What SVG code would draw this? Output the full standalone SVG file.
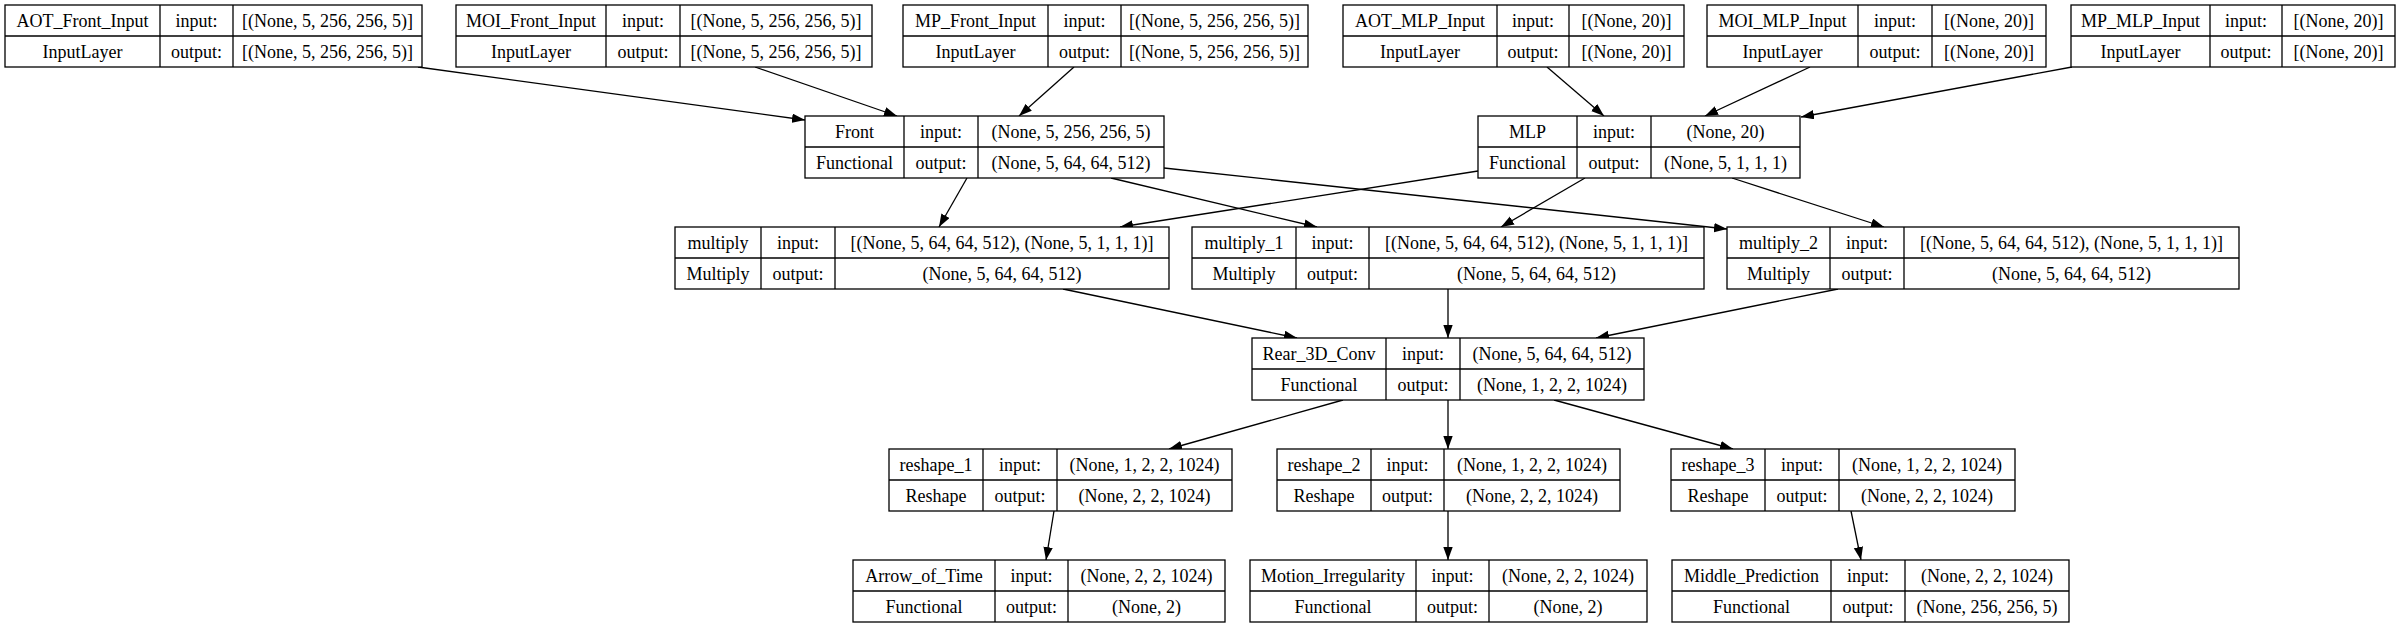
<svg xmlns="http://www.w3.org/2000/svg" width="2405" height="627" viewBox="0 0 2405 627">
<style>
.box{fill:#fff;stroke:#000;stroke-width:1.3}
.sep{stroke:#000;stroke-width:1.3}
text{font-family:"Liberation Serif","Times New Roman",serif;font-size:18px;fill:#000;text-anchor:middle}
.edge{stroke:#000;stroke-width:1.3;fill:none;marker-end:url(#arrow)}
</style>
<defs>
<marker id="arrow" markerUnits="userSpaceOnUse" markerWidth="14" markerHeight="10" refX="13" refY="4.7" orient="auto" viewBox="0 0 14 10">
<path d="M0,0 L13,4.7 L0,9.4 z" fill="#000"/>
</marker>
</defs>
<rect x="0" y="0" width="2405" height="627" fill="#fff"/>

<g id="connectors">
<line class="edge" x1="418" y1="67" x2="805" y2="120"/>
<line class="edge" x1="755" y1="67" x2="897" y2="116"/>
<line class="edge" x1="1074" y1="67" x2="1019" y2="116"/>
<line class="edge" x1="1547" y1="67" x2="1604" y2="116"/>
<line class="edge" x1="1810" y1="67" x2="1705" y2="116"/>
<line class="edge" x1="2072" y1="67" x2="1801" y2="117"/>
<line class="edge" x1="967" y1="178" x2="939" y2="227"/>
<line class="edge" x1="1111" y1="178" x2="1317" y2="227"/>
<line class="edge" x1="1164" y1="168" x2="1727" y2="229"/>
<line class="edge" x1="1478" y1="171" x2="1120" y2="227"/>
<line class="edge" x1="1585" y1="178" x2="1501" y2="227"/>
<line class="edge" x1="1732" y1="178" x2="1884" y2="227"/>
<line class="edge" x1="1063" y1="289" x2="1297" y2="338"/>
<line class="edge" x1="1448" y1="289" x2="1448" y2="338"/>
<line class="edge" x1="1838" y1="289" x2="1596" y2="338"/>
<line class="edge" x1="1343" y1="400" x2="1169" y2="449"/>
<line class="edge" x1="1448" y1="400" x2="1448" y2="449"/>
<line class="edge" x1="1554" y1="400" x2="1733" y2="449"/>
<line class="edge" x1="1054" y1="511" x2="1046" y2="560"/>
<line class="edge" x1="1448" y1="511" x2="1448" y2="560"/>
<line class="edge" x1="1851" y1="511" x2="1861" y2="560"/>
</g>

<g id="AOT_Front_Input">
<rect class="box" x="5" y="5" width="417" height="62"/>
<line class="sep" x1="160" y1="5" x2="160" y2="67"/><line class="sep" x1="233" y1="5" x2="233" y2="67"/><line class="sep" x1="5" y1="36" x2="422" y2="36"/>
<text x="82.5" y="27">AOT_Front_Input</text><text x="196.5" y="27">input:</text><text x="327.5" y="27">[(None, 5, 256, 256, 5)]</text>
<text x="82.5" y="58">InputLayer</text><text x="196.5" y="58">output:</text><text x="327.5" y="58">[(None, 5, 256, 256, 5)]</text>
</g>

<g id="MOI_Front_Input">
<rect class="box" x="456" y="5" width="416" height="62"/>
<line class="sep" x1="606" y1="5" x2="606" y2="67"/><line class="sep" x1="680" y1="5" x2="680" y2="67"/><line class="sep" x1="456" y1="36" x2="872" y2="36"/>
<text x="531" y="27">MOI_Front_Input</text><text x="643" y="27">input:</text><text x="776" y="27">[(None, 5, 256, 256, 5)]</text>
<text x="531" y="58">InputLayer</text><text x="643" y="58">output:</text><text x="776" y="58">[(None, 5, 256, 256, 5)]</text>
</g>

<g id="MP_Front_Input">
<rect class="box" x="903" y="5" width="405" height="62"/>
<line class="sep" x1="1048" y1="5" x2="1048" y2="67"/><line class="sep" x1="1121" y1="5" x2="1121" y2="67"/><line class="sep" x1="903" y1="36" x2="1308" y2="36"/>
<text x="975.5" y="27">MP_Front_Input</text><text x="1084.5" y="27">input:</text><text x="1214.5" y="27">[(None, 5, 256, 256, 5)]</text>
<text x="975.5" y="58">InputLayer</text><text x="1084.5" y="58">output:</text><text x="1214.5" y="58">[(None, 5, 256, 256, 5)]</text>
</g>

<g id="AOT_MLP_Input">
<rect class="box" x="1343" y="5" width="341" height="62"/>
<line class="sep" x1="1497" y1="5" x2="1497" y2="67"/><line class="sep" x1="1569" y1="5" x2="1569" y2="67"/><line class="sep" x1="1343" y1="36" x2="1684" y2="36"/>
<text x="1420" y="27">AOT_MLP_Input</text><text x="1533" y="27">input:</text><text x="1626.5" y="27">[(None, 20)]</text>
<text x="1420" y="58">InputLayer</text><text x="1533" y="58">output:</text><text x="1626.5" y="58">[(None, 20)]</text>
</g>

<g id="MOI_MLP_Input">
<rect class="box" x="1707" y="5" width="339" height="62"/>
<line class="sep" x1="1858" y1="5" x2="1858" y2="67"/><line class="sep" x1="1932" y1="5" x2="1932" y2="67"/><line class="sep" x1="1707" y1="36" x2="2046" y2="36"/>
<text x="1782.5" y="27">MOI_MLP_Input</text><text x="1895" y="27">input:</text><text x="1989" y="27">[(None, 20)]</text>
<text x="1782.5" y="58">InputLayer</text><text x="1895" y="58">output:</text><text x="1989" y="58">[(None, 20)]</text>
</g>

<g id="MP_MLP_Input">
<rect class="box" x="2071" y="5" width="324" height="62"/>
<line class="sep" x1="2210" y1="5" x2="2210" y2="67"/><line class="sep" x1="2282" y1="5" x2="2282" y2="67"/><line class="sep" x1="2071" y1="36" x2="2395" y2="36"/>
<text x="2140.5" y="27">MP_MLP_Input</text><text x="2246" y="27">input:</text><text x="2338.5" y="27">[(None, 20)]</text>
<text x="2140.5" y="58">InputLayer</text><text x="2246" y="58">output:</text><text x="2338.5" y="58">[(None, 20)]</text>
</g>

<g id="Front">
<rect class="box" x="805" y="116" width="359" height="62"/>
<line class="sep" x1="904" y1="116" x2="904" y2="178"/><line class="sep" x1="978" y1="116" x2="978" y2="178"/><line class="sep" x1="805" y1="147" x2="1164" y2="147"/>
<text x="854.5" y="138">Front</text><text x="941" y="138">input:</text><text x="1071" y="138">(None, 5, 256, 256, 5)</text>
<text x="854.5" y="169">Functional</text><text x="941" y="169">output:</text><text x="1071" y="169">(None, 5, 64, 64, 512)</text>
</g>

<g id="MLP">
<rect class="box" x="1478" y="116" width="322" height="62"/>
<line class="sep" x1="1577" y1="116" x2="1577" y2="178"/><line class="sep" x1="1651" y1="116" x2="1651" y2="178"/><line class="sep" x1="1478" y1="147" x2="1800" y2="147"/>
<text x="1527.5" y="138">MLP</text><text x="1614" y="138">input:</text><text x="1725.5" y="138">(None, 20)</text>
<text x="1527.5" y="169">Functional</text><text x="1614" y="169">output:</text><text x="1725.5" y="169">(None, 5, 1, 1, 1)</text>
</g>

<g id="multiply">
<rect class="box" x="675" y="227" width="494" height="62"/>
<line class="sep" x1="761" y1="227" x2="761" y2="289"/><line class="sep" x1="835" y1="227" x2="835" y2="289"/><line class="sep" x1="675" y1="258" x2="1169" y2="258"/>
<text x="718" y="249">multiply</text><text x="798" y="249">input:</text><text x="1002" y="249">[(None, 5, 64, 64, 512), (None, 5, 1, 1, 1)]</text>
<text x="718" y="280">Multiply</text><text x="798" y="280">output:</text><text x="1002" y="280">(None, 5, 64, 64, 512)</text>
</g>

<g id="multiply_1">
<rect class="box" x="1192" y="227" width="512" height="62"/>
<line class="sep" x1="1296" y1="227" x2="1296" y2="289"/><line class="sep" x1="1369" y1="227" x2="1369" y2="289"/><line class="sep" x1="1192" y1="258" x2="1704" y2="258"/>
<text x="1244" y="249">multiply_1</text><text x="1332.5" y="249">input:</text><text x="1536.5" y="249">[(None, 5, 64, 64, 512), (None, 5, 1, 1, 1)]</text>
<text x="1244" y="280">Multiply</text><text x="1332.5" y="280">output:</text><text x="1536.5" y="280">(None, 5, 64, 64, 512)</text>
</g>

<g id="multiply_2">
<rect class="box" x="1727" y="227" width="512" height="62"/>
<line class="sep" x1="1830" y1="227" x2="1830" y2="289"/><line class="sep" x1="1904" y1="227" x2="1904" y2="289"/><line class="sep" x1="1727" y1="258" x2="2239" y2="258"/>
<text x="1778.5" y="249">multiply_2</text><text x="1867" y="249">input:</text><text x="2071.5" y="249">[(None, 5, 64, 64, 512), (None, 5, 1, 1, 1)]</text>
<text x="1778.5" y="280">Multiply</text><text x="1867" y="280">output:</text><text x="2071.5" y="280">(None, 5, 64, 64, 512)</text>
</g>

<g id="Rear_3D_Conv">
<rect class="box" x="1252" y="338" width="392" height="62"/>
<line class="sep" x1="1386" y1="338" x2="1386" y2="400"/><line class="sep" x1="1460" y1="338" x2="1460" y2="400"/><line class="sep" x1="1252" y1="369" x2="1644" y2="369"/>
<text x="1319" y="360">Rear_3D_Conv</text><text x="1423" y="360">input:</text><text x="1552" y="360">(None, 5, 64, 64, 512)</text>
<text x="1319" y="391">Functional</text><text x="1423" y="391">output:</text><text x="1552" y="391">(None, 1, 2, 2, 1024)</text>
</g>

<g id="reshape_1">
<rect class="box" x="889" y="449" width="343" height="62"/>
<line class="sep" x1="983" y1="449" x2="983" y2="511"/><line class="sep" x1="1057" y1="449" x2="1057" y2="511"/><line class="sep" x1="889" y1="480" x2="1232" y2="480"/>
<text x="936" y="471">reshape_1</text><text x="1020" y="471">input:</text><text x="1144.5" y="471">(None, 1, 2, 2, 1024)</text>
<text x="936" y="502">Reshape</text><text x="1020" y="502">output:</text><text x="1144.5" y="502">(None, 2, 2, 1024)</text>
</g>

<g id="reshape_2">
<rect class="box" x="1277" y="449" width="343" height="62"/>
<line class="sep" x1="1371" y1="449" x2="1371" y2="511"/><line class="sep" x1="1444" y1="449" x2="1444" y2="511"/><line class="sep" x1="1277" y1="480" x2="1620" y2="480"/>
<text x="1324" y="471">reshape_2</text><text x="1407.5" y="471">input:</text><text x="1532" y="471">(None, 1, 2, 2, 1024)</text>
<text x="1324" y="502">Reshape</text><text x="1407.5" y="502">output:</text><text x="1532" y="502">(None, 2, 2, 1024)</text>
</g>

<g id="reshape_3">
<rect class="box" x="1671" y="449" width="344" height="62"/>
<line class="sep" x1="1765" y1="449" x2="1765" y2="511"/><line class="sep" x1="1839" y1="449" x2="1839" y2="511"/><line class="sep" x1="1671" y1="480" x2="2015" y2="480"/>
<text x="1718" y="471">reshape_3</text><text x="1802" y="471">input:</text><text x="1927" y="471">(None, 1, 2, 2, 1024)</text>
<text x="1718" y="502">Reshape</text><text x="1802" y="502">output:</text><text x="1927" y="502">(None, 2, 2, 1024)</text>
</g>

<g id="Arrow_of_Time">
<rect class="box" x="853" y="560" width="372" height="62"/>
<line class="sep" x1="995" y1="560" x2="995" y2="622"/><line class="sep" x1="1068" y1="560" x2="1068" y2="622"/><line class="sep" x1="853" y1="591" x2="1225" y2="591"/>
<text x="924" y="582">Arrow_of_Time</text><text x="1031.5" y="582">input:</text><text x="1146.5" y="582">(None, 2, 2, 1024)</text>
<text x="924" y="613">Functional</text><text x="1031.5" y="613">output:</text><text x="1146.5" y="613">(None, 2)</text>
</g>

<g id="Motion_Irregularity">
<rect class="box" x="1250" y="560" width="397" height="62"/>
<line class="sep" x1="1416" y1="560" x2="1416" y2="622"/><line class="sep" x1="1489" y1="560" x2="1489" y2="622"/><line class="sep" x1="1250" y1="591" x2="1647" y2="591"/>
<text x="1333" y="582">Motion_Irregularity</text><text x="1452.5" y="582">input:</text><text x="1568" y="582">(None, 2, 2, 1024)</text>
<text x="1333" y="613">Functional</text><text x="1452.5" y="613">output:</text><text x="1568" y="613">(None, 2)</text>
</g>

<g id="Middle_Prediction">
<rect class="box" x="1672" y="560" width="397" height="62"/>
<line class="sep" x1="1831" y1="560" x2="1831" y2="622"/><line class="sep" x1="1905" y1="560" x2="1905" y2="622"/><line class="sep" x1="1672" y1="591" x2="2069" y2="591"/>
<text x="1751.5" y="582">Middle_Prediction</text><text x="1868" y="582">input:</text><text x="1987" y="582">(None, 2, 2, 1024)</text>
<text x="1751.5" y="613">Functional</text><text x="1868" y="613">output:</text><text x="1987" y="613">(None, 256, 256, 5)</text>
</g>
</svg>
